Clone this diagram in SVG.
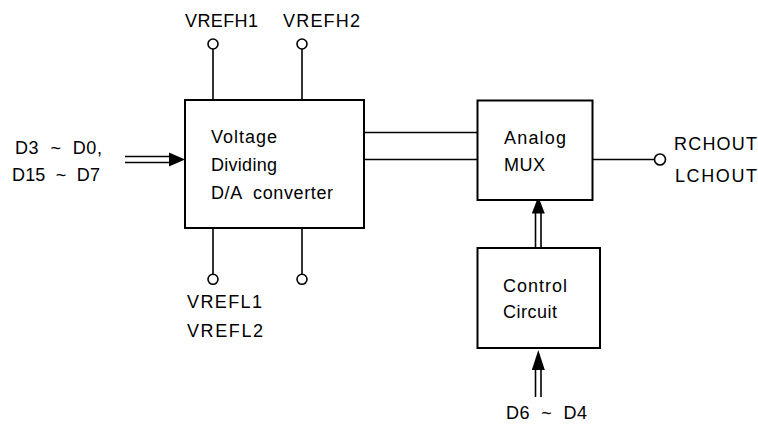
<svg xmlns="http://www.w3.org/2000/svg" width="758" height="426" viewBox="0 0 758 426">
<style>
text{font-family:"Liberation Sans",Arial,sans-serif;font-size:18px;fill:#000;white-space:pre}
.box{fill:#fff;stroke:#000;stroke-width:2}
.ln{fill:none;stroke:#000;stroke-width:1.6}
.pin{fill:#fff;stroke:#000;stroke-width:1.6}
.head{fill:#000;stroke:none}
</style>
<rect width="758" height="426" fill="#fff"/>
<g id="connectors">
<line class="ln" x1="125" y1="156.5" x2="172" y2="156.5"/>
<line class="ln" x1="125" y1="162.5" x2="172" y2="162.5"/>
<polygon class="head" points="169,152.5 185,159.5 169,166.5"/>
<line class="ln" x1="213" y1="49" x2="213" y2="100"/>
<line class="ln" x1="302" y1="49" x2="302" y2="100"/>
<line class="ln" x1="213" y1="228" x2="213" y2="274.5"/>
<line class="ln" x1="302" y1="228" x2="302" y2="274.5"/>
<line class="ln" x1="361" y1="132.5" x2="481" y2="132.5"/>
<line class="ln" x1="361" y1="159.5" x2="481" y2="159.5"/>
<line class="ln" x1="590" y1="159.5" x2="654.5" y2="159.5"/>
<line class="ln" x1="535.5" y1="210" x2="535.5" y2="250"/>
<line class="ln" x1="541" y1="210" x2="541" y2="250"/>
<polygon class="head" points="538.3,196.5 531.8,213.5 544.8,213.5"/>
<line class="ln" x1="535.5" y1="368" x2="535.5" y2="397"/>
<line class="ln" x1="541" y1="368" x2="541" y2="397"/>
<polygon class="head" points="538.3,350 531.8,370 544.8,370"/>
</g>
<g id="dac">
<rect class="box" x="185" y="100" width="179" height="128"/>
<text x="211" y="143" textLength="66" lengthAdjust="spacing">Voltage</text>
<text x="211" y="171" textLength="66" lengthAdjust="spacing">Dividing</text>
<text x="211" y="199" textLength="122" lengthAdjust="spacing">D/A  converter</text>
</g>
<g id="mux">
<rect class="box" x="477.5" y="100.5" width="115" height="99.5"/>
<text x="504" y="144" textLength="62" lengthAdjust="spacing">Analog</text>
<text x="504" y="171" textLength="41" lengthAdjust="spacing">MUX</text>
</g>
<g id="control">
<rect class="box" x="477.5" y="248" width="122.5" height="100"/>
<text x="503" y="291.5" textLength="64" lengthAdjust="spacing">Control</text>
<text x="503" y="318" textLength="54" lengthAdjust="spacing">Circuit</text>
</g>
<g id="vrefh1">
<circle class="pin" cx="213" cy="44" r="5"/>
<text x="185" y="27" textLength="73" lengthAdjust="spacing">VREFH1</text>
</g>
<g id="vrefh2">
<circle class="pin" cx="302" cy="44" r="5"/>
<text x="283" y="27" textLength="77" lengthAdjust="spacing">VREFH2</text>
</g>
<g id="vrefl">
<circle class="pin" cx="213" cy="279.3" r="5"/>
<circle class="pin" cx="302" cy="279.3" r="5"/>
<text x="187" y="308" textLength="75" lengthAdjust="spacing">VREFL1</text>
<text x="187" y="337" textLength="76" lengthAdjust="spacing">VREFL2</text>
</g>
<g id="output">
<circle class="pin" cx="660" cy="159.5" r="5.5"/>
<text x="674" y="150" textLength="83" lengthAdjust="spacing">RCHOUT</text>
<text x="675" y="181.5" textLength="82" lengthAdjust="spacing">LCHOUT</text>
</g>
<g id="input-labels">
<text x="15" y="153.5" textLength="87" lengthAdjust="spacing">D3  ~  D0,</text>
<text x="12" y="180.5" textLength="88" lengthAdjust="spacing">D15  ~  D7</text>
<text x="506" y="419" textLength="81" lengthAdjust="spacing">D6  ~  D4</text>
</g>
</svg>
